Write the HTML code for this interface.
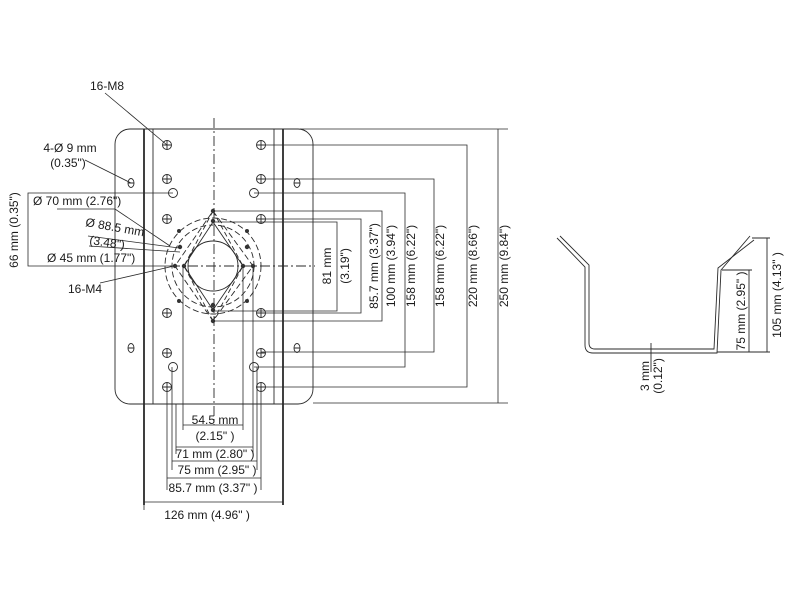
<!DOCTYPE html>
<html><head><style>
html,body{margin:0;padding:0;background:#fff;}
svg{display:block;}
text{font-family:"Liberation Sans",sans-serif;font-size:12px;fill:#1a1a1a;}
</style></head><body>
<svg width="800" height="600" viewBox="0 0 800 600" xmlns="http://www.w3.org/2000/svg">
<g fill="none" stroke="#2a2a2a" stroke-width="0.9">
<rect x="115" y="129" width="198" height="275" rx="15" ry="15"/>
<line x1="144" y1="129" x2="144" y2="505" stroke-width="1.8"/>
<line x1="283" y1="129" x2="283" y2="505" stroke-width="1.8"/>
<line x1="153" y1="129" x2="153" y2="404"/>
<line x1="274" y1="129" x2="274" y2="404"/>
<line x1="214" y1="118" x2="214" y2="425" stroke-dasharray="10,3,2,3"/>
<line x1="170" y1="266" x2="315" y2="266" stroke-dasharray="10,3,2,3"/>
<g>
<circle cx="167" cy="145" r="4.5"/><circle cx="167" cy="179" r="4.5"/><circle cx="167" cy="219" r="4.5"/>
<circle cx="167" cy="313" r="4.5"/><circle cx="167" cy="353" r="4.5"/><circle cx="167" cy="387" r="4.5"/>
<circle cx="261" cy="145" r="4.5"/><circle cx="261" cy="179" r="4.5"/><circle cx="261" cy="219" r="4.5"/>
<circle cx="261" cy="313" r="4.5"/><circle cx="261" cy="353" r="4.5"/><circle cx="261" cy="387" r="4.5"/>
<circle cx="173" cy="193" r="4.5"/><circle cx="173" cy="367" r="4.5"/>
<circle cx="254" cy="193" r="4.5"/><circle cx="254" cy="367" r="4.5"/>
<path d="M162.5 145h9M167 140.5v9M162.5 179h9M167 174.5v9M162.5 219h9M167 214.5v9M162.5 313h9M167 308.5v9M162.5 353h9M167 348.5v9M162.5 387h9M167 382.5v9"/>
<path d="M256.5 145h9M261 140.5v9M256.5 179h9M261 174.5v9M256.5 219h9M261 214.5v9M256.5 313h9M261 308.5v9M256.5 353h9M261 348.5v9M256.5 387h9M261 382.5v9"/>
<ellipse cx="131" cy="183" rx="3" ry="4.5"/><ellipse cx="131" cy="348" rx="3" ry="4.5"/>
<ellipse cx="297" cy="183" rx="3" ry="4.5"/><ellipse cx="297" cy="348" rx="3" ry="4.5"/>
<path d="M128 183h6M128 348h6M294 183h6M294 348h6"/>
</g>
<circle cx="213" cy="266" r="48" stroke-dasharray="6,3"/>
<circle cx="213" cy="266" r="41" stroke-dasharray="6,3"/>
<circle cx="213" cy="266" r="25"/>
<polygon points="213,211 253,266 213,321 175,266" stroke-dasharray="6,3"/>
<polygon points="213,222 243,266 213,310 184,266"/>
<path d="M213,211 L184,266 M213,211 L243,266 M213,321 L184,266 M213,321 L243,266" stroke-dasharray="5,3"/>
</g>
<g fill="#333">
<circle cx="213" cy="211" r="2.2"/><circle cx="213" cy="221" r="2.2"/>
<circle cx="213" cy="305" r="2.2"/><circle cx="213" cy="310" r="2.2"/><circle cx="213" cy="321" r="2.2"/>
<circle cx="175" cy="266" r="2.2"/><circle cx="184" cy="266" r="2.2"/>
<circle cx="243" cy="266" r="2.2"/><circle cx="253" cy="266" r="2.2"/>
<circle cx="179" cy="231" r="2"/><circle cx="247" cy="231" r="2"/>
<circle cx="179" cy="301" r="2"/><circle cx="247" cy="301" r="2"/>
<circle cx="180" cy="247" r="2.2"/><circle cx="247" cy="247" r="2.2"/>
</g>
<g fill="none" stroke="#2a2a2a" stroke-width="0.8">
<path d="M300 129H508M498 129V403M313 403H508"/>
<path d="M261 145H467V387H261"/>
<path d="M261 179H434V352H261"/>
<path d="M254 193H405V367H254"/>
<path d="M213 211H382V321H213"/>
<path d="M261 219H361V313H261"/>
<path d="M213 222H337V311H213"/>
<path d="M173 193H28V266H175"/>
<path d="M105 93L167 145"/>
<path d="M85 160L131 183"/>
<path d="M57 209H115L170 246"/>
<path d="M88 236L179 248M89 246L180 252"/>
<path d="M100 283L174 266"/>
<path d="M144 404V510M167 387V490M172 367V470M176 404V454M183 266V430M243 266V430M253 266V454M257 367V470M261 387V490"/>
<path d="M183 425H243M176 447H253M172 461H257M167 478H261M144 502H283"/>
</g>
<g fill="none" stroke="#2a2a2a" stroke-width="0.9">
<path d="M557 238L585 267V345Q585 353 593 353H717L721 270L750 236"/>
<path d="M560 236L589 265V343Q589 349 595 349H714L718 268L754 240"/>
<path d="M752 238H770M717 352H770M767 238V352M722 270H752M749 270V352M651 343V372"/>
</g>
<text x="107" y="90" text-anchor="middle">16-M8</text>
<text x="70" y="152" text-anchor="middle">4-Ø 9 mm</text>
<text x="68" y="167" text-anchor="middle">(0.35")</text>
<text x="33" y="205">Ø 70 mm (2.76")</text>
<text x="85" y="226" transform="rotate(10 85 226)">Ø 88.5 mm</text>
<text x="89" y="244" transform="rotate(8 89 244)">(3.48")</text>
<text x="47" y="262">Ø 45 mm (1.77")</text>
<text x="68" y="293">16-M4</text>
<text transform="translate(18 230) rotate(-90)" text-anchor="middle">66 mm (0.35")</text>
<text transform="translate(331 266) rotate(-90)" text-anchor="middle">81 mm</text>
<text transform="translate(349 266) rotate(-90)" text-anchor="middle">(3.19")</text>
<text transform="translate(378 266) rotate(-90)" text-anchor="middle">85.7 mm (3.37")</text>
<text transform="translate(395 266) rotate(-90)" text-anchor="middle">100 mm (3.94")</text>
<text transform="translate(415 266) rotate(-90)" text-anchor="middle">158 mm (6.22")</text>
<text transform="translate(444 266) rotate(-90)" text-anchor="middle">158 mm (6.22")</text>
<text transform="translate(477 266) rotate(-90)" text-anchor="middle">220 mm (8.66")</text>
<text transform="translate(508 266) rotate(-90)" text-anchor="middle">250 mm (9.84")</text>
<text x="215" y="424" text-anchor="middle">54.5 mm</text>
<text x="215" y="440" text-anchor="middle">(2.15" )</text>
<text x="215" y="458" text-anchor="middle">71 mm (2.80" )</text>
<text x="217" y="474" text-anchor="middle">75 mm (2.95" )</text>
<text x="213" y="492" text-anchor="middle">85.7 mm (3.37" )</text>
<text x="207" y="519" text-anchor="middle">126 mm (4.96" )</text>
<text transform="translate(781 295) rotate(-90)" text-anchor="middle">105 mm (4.13" )</text>
<text transform="translate(745 311) rotate(-90)" text-anchor="middle">75 mm (2.95" )</text>
<text transform="translate(649 376) rotate(-90)" text-anchor="middle">3 mm</text>
<text transform="translate(662 376) rotate(-90)" text-anchor="middle">(0.12")</text>
</svg>
</body></html>
